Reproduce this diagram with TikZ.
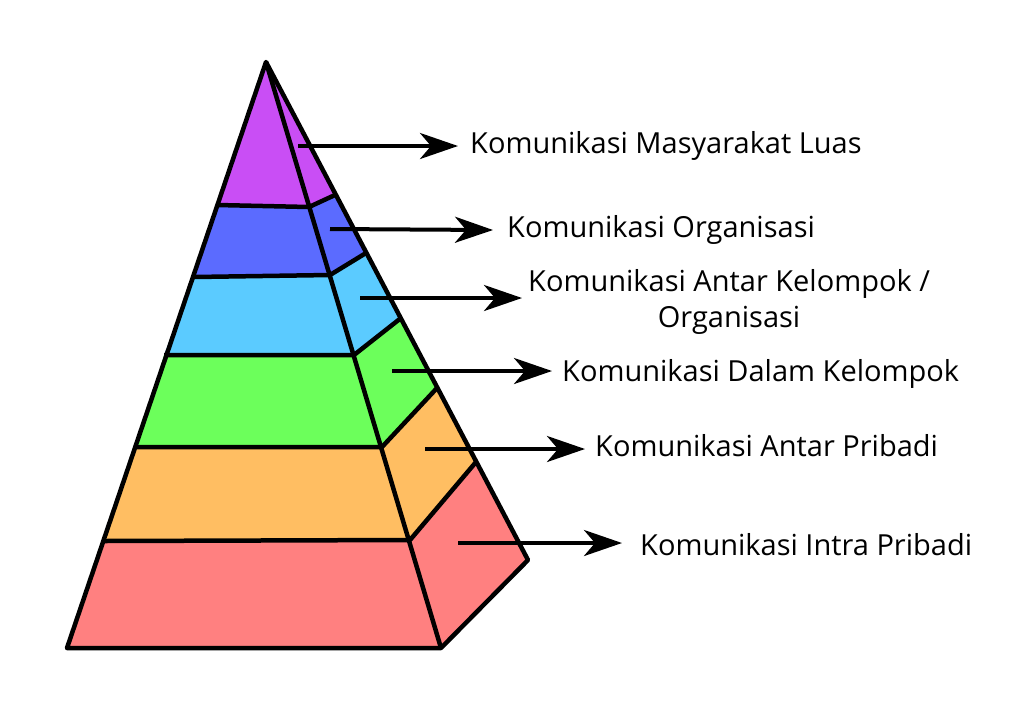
\documentclass[tikz,border=0pt]{standalone}
\usepackage{fontspec}
\setmainfont{Open Sans}
\usetikzlibrary{arrows.meta}
\definecolor{cP}{HTML}{C94EF5}
\definecolor{cB}{HTML}{5B6BFF}
\definecolor{cC}{HTML}{5BCBFF}
\definecolor{cG}{HTML}{6CFF5B}
\definecolor{cO}{HTML}{FFBE62}
\definecolor{cR}{HTML}{FF8080}
\begin{document}
\begin{tikzpicture}[x=1pt,y=-1pt,line join=round,
  face/.style={draw=black,line width=4.5pt},
  arr/.style={line width=4pt,-{Stealth[length=38pt,width=26pt,inset=11pt]}},
  lbl/.style={anchor=west,font=\fontsize{29}{36}\selectfont,inner sep=0pt,align=center}]
\useasboundingbox (0,0) rectangle (1024,724);
\coordinate (A) at (266,62);
\coordinate (L1) at (217,205); \coordinate (L2) at (194,277); \coordinate (L3) at (164,355);
\coordinate (L4) at (137,447); \coordinate (L5) at (103,541); \coordinate (L6) at (67,648);
\coordinate (F1) at (309,207); \coordinate (F2) at (330,275); \coordinate (F3) at (354,355);
\coordinate (F4) at (382,447); \coordinate (F5) at (410,540); \coordinate (F6) at (441,648);
\coordinate (B1) at (335,195); \coordinate (B2) at (366,253); \coordinate (B3) at (401,318);
\coordinate (B4) at (437,388); \coordinate (B5) at (476,462); \coordinate (B6) at (528,560);
\fill[cP] (A)--(L1)--(F1)--cycle; \fill[cP] (A)--(F1)--(B1)--cycle;
\fill[cB] (L1)--(L2)--(F2)--(F1)--cycle; \fill[cB] (F1)--(F2)--(B2)--(B1)--cycle;
\fill[cC] (L2)--(L3)--(F3)--(F2)--cycle; \fill[cC] (F2)--(F3)--(B3)--(B2)--cycle;
\fill[cG] (L3)--(L4)--(F4)--(F3)--cycle; \fill[cG] (F3)--(F4)--(B4)--(B3)--cycle;
\fill[cO] (L4)--(L5)--(F5)--(F4)--cycle; \fill[cO] (F4)--(F5)--(B5)--(B4)--cycle;
\fill[cR] (L5)--(L6)--(F6)--(F5)--cycle; \fill[cR] (F5)--(F6)--(B6)--(B5)--cycle;
\draw[face] (A)--(L6)--(F6)--(B6)--cycle;
\draw[face] (A)--(F6);
\foreach \i in {1,...,5}{\draw[face] (L\i)--(F\i)--(B\i);}
\node[lbl] (t1) at (470,146) {Komunikasi Masyarakat Luas};
\node[lbl] (t2) at (507,230) {Komunikasi Organisasi};
\node[lbl] (t3) at (528,302) {Komunikasi Antar Kelompok /\\Organisasi};
\node[lbl] (t4) at (562,374) {Komunikasi Dalam Kelompok};
\node[lbl] (t5) at (595,446) {Komunikasi Antar Pribadi};
\node[lbl] (t6) at (640,545) {Komunikasi Intra Pribadi};
\coordinate (s1) at (298,146); \coordinate (s2) at (330,229); \coordinate (s3) at (360,298);
\coordinate (s4) at (392,371); \coordinate (s5) at (425,449); \coordinate (s6) at (458,543);
\draw[arr] (s1) -- ([xshift=-12pt]t1.west);
\draw[arr] (s2) -- ([xshift=-14pt]t2.west);
\draw[arr] (s3) -- ([xshift=-6pt]t3.west|-s3);
\draw[arr] (s4) -- ([xshift=-10pt]t4.west|-s4);
\draw[arr] (s5) -- ([xshift=-10pt]t5.west|-s5);
\draw[arr] (s6) -- ([xshift=-18pt]t6.west|-s6);
\end{tikzpicture}
\end{document}
